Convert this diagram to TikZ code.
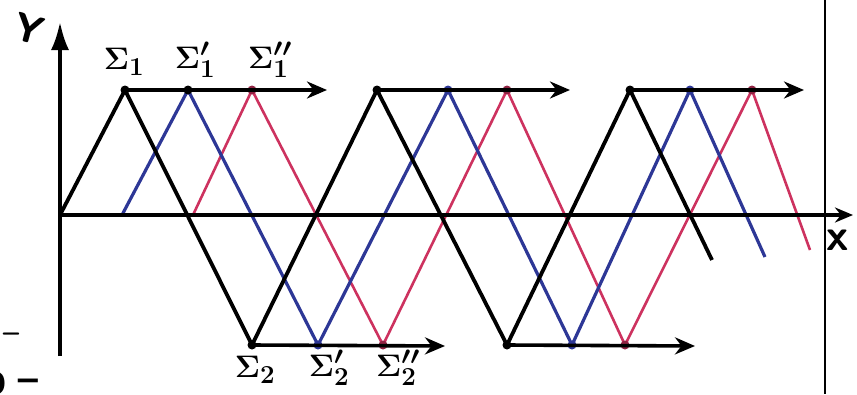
\documentclass[tikz,border=0pt]{standalone}
\usetikzlibrary{arrows.meta}
\definecolor{waveblue}{RGB}{45,55,150}
\definecolor{wavered}{RGB}{205,50,95}

\begin{document}
\begin{tikzpicture}[x=1pt,y=-1pt,
    axisline/.style={line width=3.4pt,-{Latex[length=28pt,width=18pt]}},
    shiftline/.style={line width=3.6pt,-{Stealth[length=20pt,width=17pt]}},
    blackwave/.style={line width=3.8pt,line join=round},
    bluewave/.style={waveblue,line width=3.2pt,line join=round},
    redwave/.style={wavered,line width=2.6pt,line join=round},
    peak/.style={circle,fill,inner sep=0pt,minimum size=9pt},
    siglabel/.style={font=\Huge\boldmath,scale=1.25},
    axislabel/.style={font=\Huge\bfseries\sffamily}
  ]
  \useasboundingbox (0,0) rectangle (857,394);

  % the three waves
  \draw[redwave] (193,215) -- (252,90) -- (383,345) -- (507,90) -- (625,345) -- (752,90) -- (810,250);
  \draw[bluewave] (122,215) -- (188,90) -- (318,345) -- (448,90) -- (572,345) -- (690,90) -- (765,257);
  \draw[blackwave] (60,215) -- (125,90) -- (252,345) -- (377,90) -- (507,345) -- (630,90) -- (712,260);

  % axes
  \coordinate (O) at (60,215);
  \coordinate (ybot) at (60,356);
  \coordinate (ytop) at (60,22);
  \coordinate (xend) at (853,215);
  \draw[line width=3.4pt] (ybot) -- (O);
  \draw[axisline] (O) -- (ytop);
  \draw[axisline,-{Stealth[length=18pt,width=15pt]}] (O) -- (xend);
  \node[axislabel, rotate=-15, scale=1.6] (ylab) at (29,29) {Y};
  \node[axislabel, scale=1.8] (xlab) at (838,240) {x};

  % frame edge on the right
  \draw[line width=2.4pt] (825,0) -- (825,394);

  % crests and troughs
  \node[peak] (a1) at (125,90) {};
  \node[peak] (a2) at (188,90) {};
  \node[peak, wavered!70!black] (a3) at (252,90) {};
  \node[peak] (b1) at (377,90) {};
  \node[peak, waveblue] (b2) at (448,90) {};
  \node[peak, wavered!70!black] (b3) at (507,90) {};
  \node[peak] (c1) at (630,90) {};
  \node[peak, waveblue] (c2) at (690,90) {};
  \node[peak, wavered!70!black] (c3) at (752,90) {};
  \node[peak] (d1) at (252,345) {};
  \node[peak, waveblue] (d2) at (318,345) {};
  \node[peak, wavered!70!black] (d3) at (383,345) {};
  \node[peak] (e1) at (507,345) {};
  \node[peak, waveblue] (e2) at (572,345) {};
  \node[peak, wavered!70!black] (e3) at (625,345) {};

  % horizontal shift arrows
  \coordinate (ta) at (327,90);
  \coordinate (tb) at (570,90);
  \coordinate (tc) at (804,90);
  \coordinate (td) at (445,346);
  \coordinate (te) at (695,346);
  \draw[shiftline] (a1.center) -- (ta);
  \draw[shiftline] (b1.center) -- (tb);
  \draw[shiftline] (c1.center) -- (tc);
  \draw[shiftline] (d1.center) -- (td);
  \draw[shiftline] (e1.center) -- (te);

  % labels
  \node[siglabel] (s1) at (124,62) {$\Sigma_1$};
  \node[siglabel] (s1p) at (195,60) {$\Sigma_1'$};
  \node[siglabel] (s1pp) at (270,60) {$\Sigma_1''$};
  \node[siglabel] (s2) at (255,370) {$\Sigma_2$};
  \node[siglabel] (s2p) at (329,368) {$\Sigma_2'$};
  \node[siglabel] (s2pp) at (398,368) {$\Sigma_2''$};

  % cut-off marks at the lower left
  \node[axislabel, scale=1.2] (m1) at (11,338) {--};
  \node[axislabel, scale=1.4, anchor=north east] (m2) at (12,366) {D};
  \node[axislabel, scale=1.1] (m3) at (28,380) {\_};
\end{tikzpicture}
\end{document}
